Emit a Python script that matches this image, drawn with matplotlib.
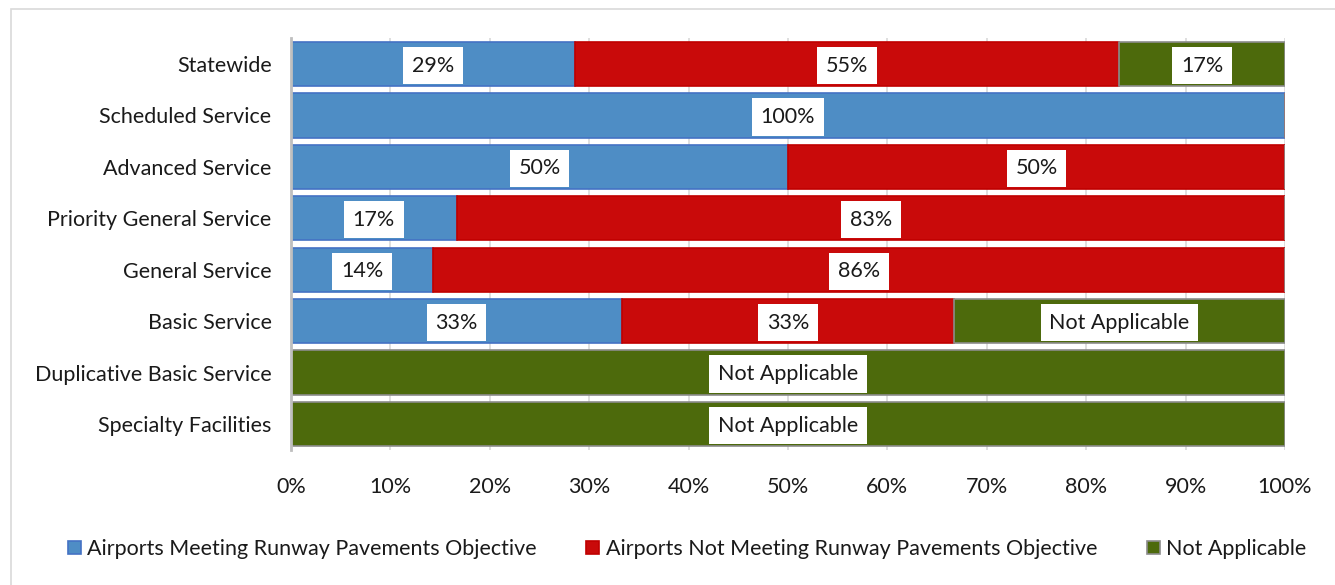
import numpy as np
import matplotlib.pyplot as plt
from matplotlib.patches import Rectangle

plt.rcParams['font.family'] = ['Lato', 'DejaVu Sans']

categories = ['Statewide', 'Scheduled Service', 'Advanced Service',
              'Priority General Service', 'General Service', 'Basic Service',
              'Duplicative Basic Service', 'Specialty Facilities']
meeting = [28.57, 100, 50, 16.67, 14.29, 33.33, 0, 0]
not_meeting = [54.76, 0, 50, 83.33, 85.71, 33.33, 0, 0]
not_applicable = [16.67, 0, 0, 0, 0, 33.34, 100, 100]

meeting_labels = ['29%', '100%', '50%', '17%', '14%', '33%', '', '']
not_meeting_labels = ['55%', '', '50%', '83%', '86%', '33%', '', '']
na_labels = ['17%', '', '', '', '', 'Not Applicable', 'Not Applicable', 'Not Applicable']

series_names = ['Airports Meeting Runway Pavements Objective',
                'Airports Not Meeting Runway Pavements Objective',
                'Not Applicable']
colors = ['#4E8DC5', '#C90A0A', '#4D6A0C']
edges = ['#4472C4', '#C00000', '#8C8C8C']

fig = plt.figure(figsize=(13.35, 5.85), dpi=100)
ax = fig.add_axes([291 / 1335, 1 - 449.7 / 585, 994 / 1335, (449.7 - 38.3) / 585])

# outer chart border (left/top visible)
fig.patches.append(Rectangle((11 / 1335, -0.01), 1.2, 1 - 9 / 585 + 0.01,
                             transform=fig.transFigure, fill=False,
                             edgecolor='#D9D9D9', linewidth=1.2))

fs = 15.5
y = np.arange(len(categories))
left = np.zeros(len(categories))
all_labels = [meeting_labels, not_meeting_labels, na_labels]
for vals, labs, c, ec, name in zip([meeting, not_meeting, not_applicable],
                                   all_labels, colors, edges, series_names):
    vals = np.array(vals, dtype=float)
    ax.barh(y, vals, left=left, height=0.86, color=c, edgecolor=ec,
            linewidth=1.2, label=name, zorder=3)
    for yi, v, l0, lab in zip(y, vals, left, labs):
        if v > 0 and lab:
            ax.text(l0 + v / 2, yi + 0.03, lab, ha='center', va='center', fontsize=fs,
                    color='#1a1a1a', zorder=5,
                    bbox=dict(boxstyle='square,pad=0.4', facecolor='white',
                              edgecolor='none'))
    left += vals

ax.set_xlim(0, 100)
ax.set_ylim(len(categories) - 0.5, -0.5)
ax.set_yticks(y)
ax.set_yticklabels(categories, fontsize=fs, color='#1a1a1a')
ax.set_xticks(np.arange(0, 101, 10))
ax.set_xticklabels([f'{t}%' for t in range(0, 101, 10)], fontsize=fs, color='#1a1a1a')
ax.tick_params(axis='both', length=0)
ax.tick_params(axis='y', pad=14)
ax.tick_params(axis='x', pad=20)
ax.grid(axis='x', color='#D9D9D9', linewidth=1.2, zorder=0)
for s in ['top', 'right', 'bottom']:
    ax.spines[s].set_visible(False)
ax.spines['left'].set_color('#BFBFBF')
ax.spines['left'].set_linewidth(2)
ax.spines['left'].set_zorder(4)

leg = fig.legend(loc='center', bbox_to_anchor=(687 / 1335, 1 - 549 / 585), ncol=3,
                 frameon=False, fontsize=fs, handlelength=0.6, handleheight=0.6,
                 handletextpad=0.3, columnspacing=2.3)
for t in leg.get_texts():
    t.set_color('#1a1a1a')

fig.savefig('out.png', dpi=100)
